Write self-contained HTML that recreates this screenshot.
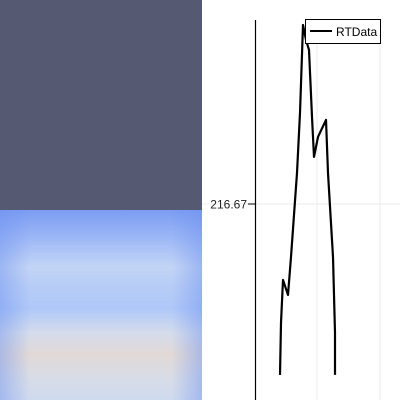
<!DOCTYPE html>
<html><head><meta charset="utf-8"><style>
html,body{margin:0;padding:0;width:400px;height:400px;overflow:hidden;background:#fff;font-family:"Liberation Sans",sans-serif}
#left-top{position:absolute;left:0;top:0;width:202px;height:210px;background:#555a72}
#heat{position:absolute;left:0;top:210px;width:202px;height:190px;
background:linear-gradient(to bottom,#7b9cf2 0%,#9db8f6 15%,#c3d4f5 30%,#b7cdf6 40%,#afc8f8 52%,#d5dceb 65%,#e2d9d6 76%,#d8dce6 88%,#cfdaee 100%)}
#heat-v{position:absolute;left:0;top:210px;width:202px;height:190px;
background:linear-gradient(to right,rgba(110,145,240,.45) 0%,rgba(110,145,240,0) 15%,rgba(110,145,240,0) 85%,rgba(110,145,240,.45) 100%)}
svg{position:absolute;left:0;top:0}
</style></head><body>
<div id="left-top"></div>
<div id="heat"></div>
<div id="heat-v"></div>
<svg id="chart" width="400" height="400">
<line x1="202" y1="204" x2="400" y2="204" stroke="#ebebeb"/>
<line x1="317" y1="20" x2="317" y2="400" stroke="#ebebeb"/>
<line x1="380" y1="20" x2="380" y2="400" stroke="#ebebeb"/>
<line x1="255.5" y1="20" x2="255.5" y2="400" stroke="#000" stroke-width="1.2"/>
<line x1="248" y1="204" x2="255" y2="204" stroke="#000"/>
<text id="ytl" x="247" y="208.5" font-size="12" text-anchor="end" fill="#222"></text>
<g id="series"></g>
<g>
<rect x="305.5" y="19.5" width="75" height="24" fill="#fff" stroke="#000"/>
<line x1="310" y1="31" x2="332" y2="31" stroke="#000" stroke-width="2"/>
<text x="336" y="36" font-size="12" fill="#000">RTData</text>
</g>
</svg>
<script>
const xValues=[0,1,3,8,11,17,20,23,26,29,32,34,38,46,48,53,55,55];
const yValues=[148.3,169.1,186.3,180.3,195.5,229.1,253.1,288.3,282.3,278.3,251.5,235.5,243.5,250.3,229.1,195.5,165.1,148.3];
const yTickValues=[216.67];
const yTickLabels=["216.67"];
function xs(v){return 280+v;}
function ys(v){return 204-(v-216.67)*2.5;}
document.getElementById('ytl').textContent=yTickLabels[0];
const pts=xValues.map((x,i)=>xs(x)+','+ys(yValues[i])).join(' ');
const pl=document.createElementNS('http://www.w3.org/2000/svg','polyline');
pl.setAttribute('points',pts);
pl.setAttribute('fill','none');
pl.setAttribute('stroke','#000');
pl.setAttribute('stroke-width','2.2');
pl.setAttribute('stroke-linejoin','round');


document.getElementById('series').appendChild(pl);
</script>
</body></html>
